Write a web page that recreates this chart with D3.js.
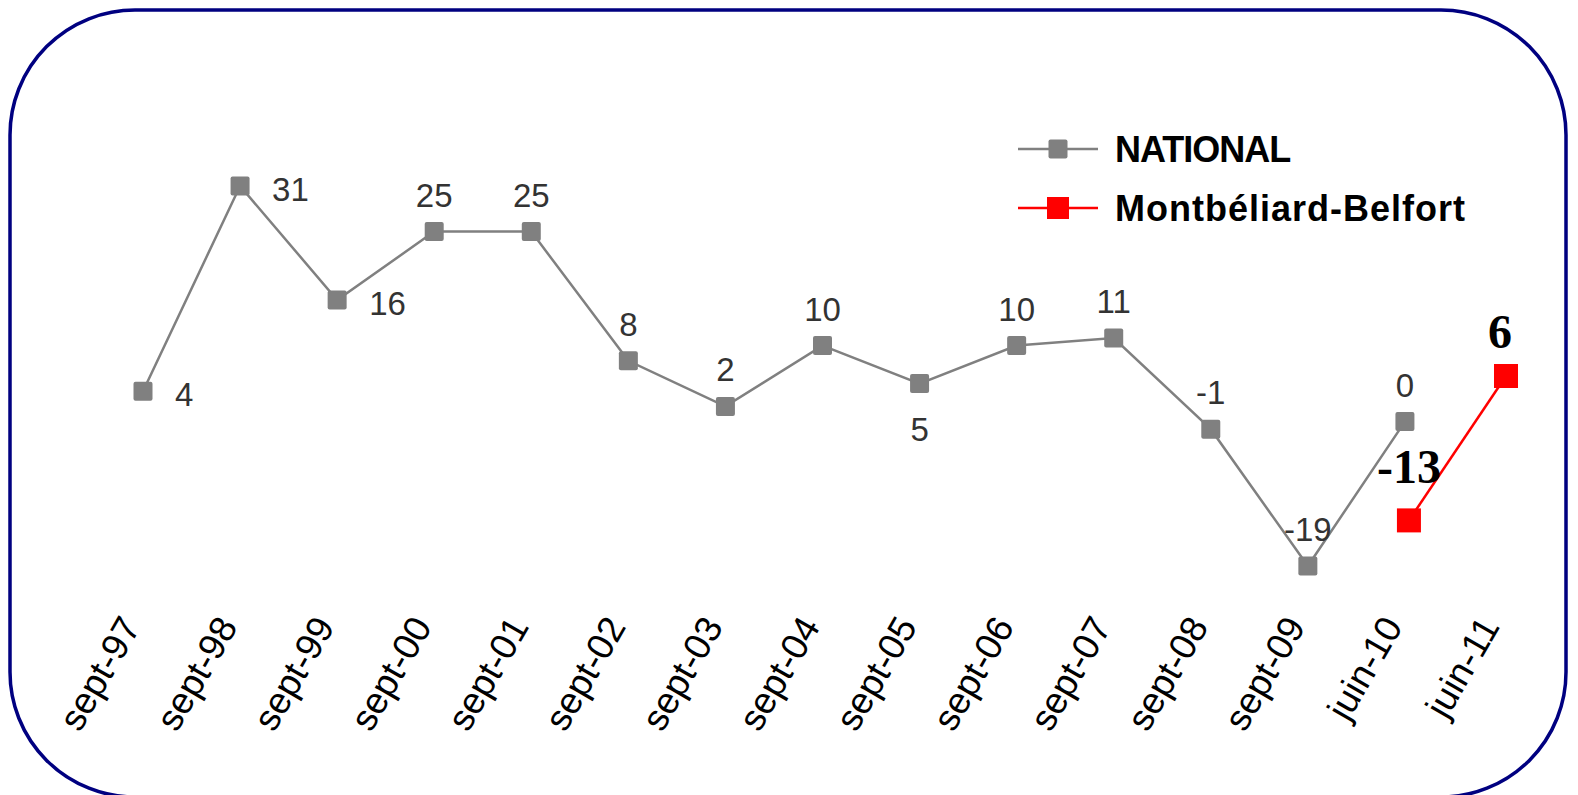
<!DOCTYPE html>
<html>
<head>
<meta charset="utf-8">
<script src="https://cdn.jsdelivr.net/npm/d3@7"></script>
<style>
body { margin: 0; background: #fff; overflow: hidden; }
svg { display: block; }
</style>
</head>
<body>
<script>
var w = 1578;
var h = 795;

// categories and values
var months = ["sept-97","sept-98","sept-99","sept-00","sept-01","sept-02","sept-03","sept-04","sept-05","sept-06","sept-07","sept-08","sept-09","juin-10","juin-11"];
var national = [4,31,16,25,25,8,2,10,5,10,11,-1,-19,0];
var localMonths = ["juin-10","juin-11"];
var local = [-13,6];
// where each national label sits
var labelSide = ["right","right","right","above","above","above","above","above","below","above","above","above","above","above"];

var xScale = d3.scalePoint()
    .domain(months)
    .range([143, 1502]);
var yScale = d3.scaleLinear()
    .domain([-19, 31])
    .range([566, 186]);

var svg = d3.select("body")
    .append("svg")
    .attr("width", w)
    .attr("height", h);

// rounded frame
svg.append("rect")
    .attr("x", 10)
    .attr("y", 10)
    .attr("width", 1556)
    .attr("height", 787)
    .attr("rx", 125)
    .attr("ry", 125)
    .style("fill", "none")
    .style("stroke", "#000080")
    .style("stroke-width", 3.5);

// x axis, labels only
var xAxis = d3.axisBottom(xScale).tickSize(0).tickPadding(0);
var gx = svg.append("g")
    .attr("transform", "translate(0,623)")
    .call(xAxis);
gx.select(".domain").remove();
gx.selectAll("text")
    .attr("x", -4)
    .attr("y", 0)
    .attr("dy", 0)
    .attr("transform", "rotate(-60)")
    .style("text-anchor", "end")
    .style("font-family", "Liberation Sans, Arial, sans-serif")
    .style("font-size", "37px")
    .style("fill", "#000");

// national line
var line = d3.line()
    .x(function(d, i) { return xScale(months[i]); })
    .y(function(d) { return yScale(d); });

svg.append("path")
    .datum(national)
    .attr("d", line)
    .style("fill", "none")
    .style("stroke", "#808080")
    .style("stroke-width", 2.5);

svg.selectAll("rect.nat")
    .data(national)
    .enter()
    .append("rect")
    .attr("class", "nat")
    .attr("x", function(d, i) { return xScale(months[i]) - 9.5; })
    .attr("y", function(d) { return yScale(d) - 9.5; })
    .attr("width", 19)
    .attr("height", 19)
    .attr("rx", 2)
    .style("fill", "#808080");

svg.selectAll("text.nat")
    .data(national)
    .enter()
    .append("text")
    .attr("class", "nat")
    .attr("x", function(d, i) {
        var x = xScale(months[i]);
        if (labelSide[i] == "right") return x + 32;
        return x;
    })
    .attr("y", function(d, i) {
        var y = yScale(d);
        if (labelSide[i] == "right") return y + 15;
        if (labelSide[i] == "below") return y + 57;
        return y - 25;
    })
    .style("text-anchor", function(d, i) { return labelSide[i] == "right" ? "start" : "middle"; })
    .style("font-family", "Liberation Sans, Arial, sans-serif")
    .style("font-size", "33px")
    .style("fill", "#333")
    .text(function(d) { return d; });

// local line (red)
var localLine = d3.line()
    .x(function(d, i) { return xScale(localMonths[i]) + 4; })
    .y(function(d) { return yScale(d); });

svg.append("path")
    .datum(local)
    .attr("d", localLine)
    .style("fill", "none")
    .style("stroke", "#ff0000")
    .style("stroke-width", 2.5);

svg.selectAll("rect.loc")
    .data(local)
    .enter()
    .append("rect")
    .attr("class", "loc")
    .attr("x", function(d, i) { return xScale(localMonths[i]) + 4 - 12; })
    .attr("y", function(d) { return yScale(d) - 12; })
    .attr("width", 24)
    .attr("height", 24)
    .style("fill", "#ff0000");

svg.selectAll("text.loc")
    .data(local)
    .enter()
    .append("text")
    .attr("class", "loc")
    .attr("x", function(d, i) { return xScale(localMonths[i]) + (i == 0 ? 4 : -2); })
    .attr("y", function(d, i) { return yScale(d) - (i == 0 ? 37 : 28); })
    .style("text-anchor", "middle")
    .style("font-family", "Liberation Serif, Times New Roman, serif")
    .style("font-weight", "bold")
    .style("font-size", "48px")
    .style("fill", "#000")
    .text(function(d) { return d; });

// legend
var legend = [
    {name: "NATIONAL", color: "#808080", size: 19, spacing: -1},
    {name: "Montbéliard-Belfort", color: "#ff0000", size: 22, spacing: 1}
];
var lg = svg.selectAll("g.legend")
    .data(legend)
    .enter()
    .append("g")
    .attr("class", "legend")
    .attr("transform", function(d, i) { return "translate(0," + (149 + i * 59) + ")"; });
lg.append("line")
    .attr("x1", 1018)
    .attr("x2", 1098)
    .style("stroke", function(d) { return d.color; })
    .style("stroke-width", 2.5);
lg.append("rect")
    .attr("x", function(d) { return 1058 - d.size / 2; })
    .attr("y", function(d) { return -d.size / 2; })
    .attr("width", function(d) { return d.size; })
    .attr("height", function(d) { return d.size; })
    .attr("rx", function(d, i) { return i == 0 ? 2 : 0; })
    .style("fill", function(d) { return d.color; });
lg.append("text")
    .attr("x", 1115)
    .attr("y", 13)
    .style("font-family", "Liberation Sans, Arial, sans-serif")
    .style("font-weight", "bold")
    .style("font-size", "36px")
    .style("letter-spacing", function(d) { return d.spacing + "px"; })
    .style("fill", "#000")
    .text(function(d) { return d.name; });
</script>
</body>
</html>
